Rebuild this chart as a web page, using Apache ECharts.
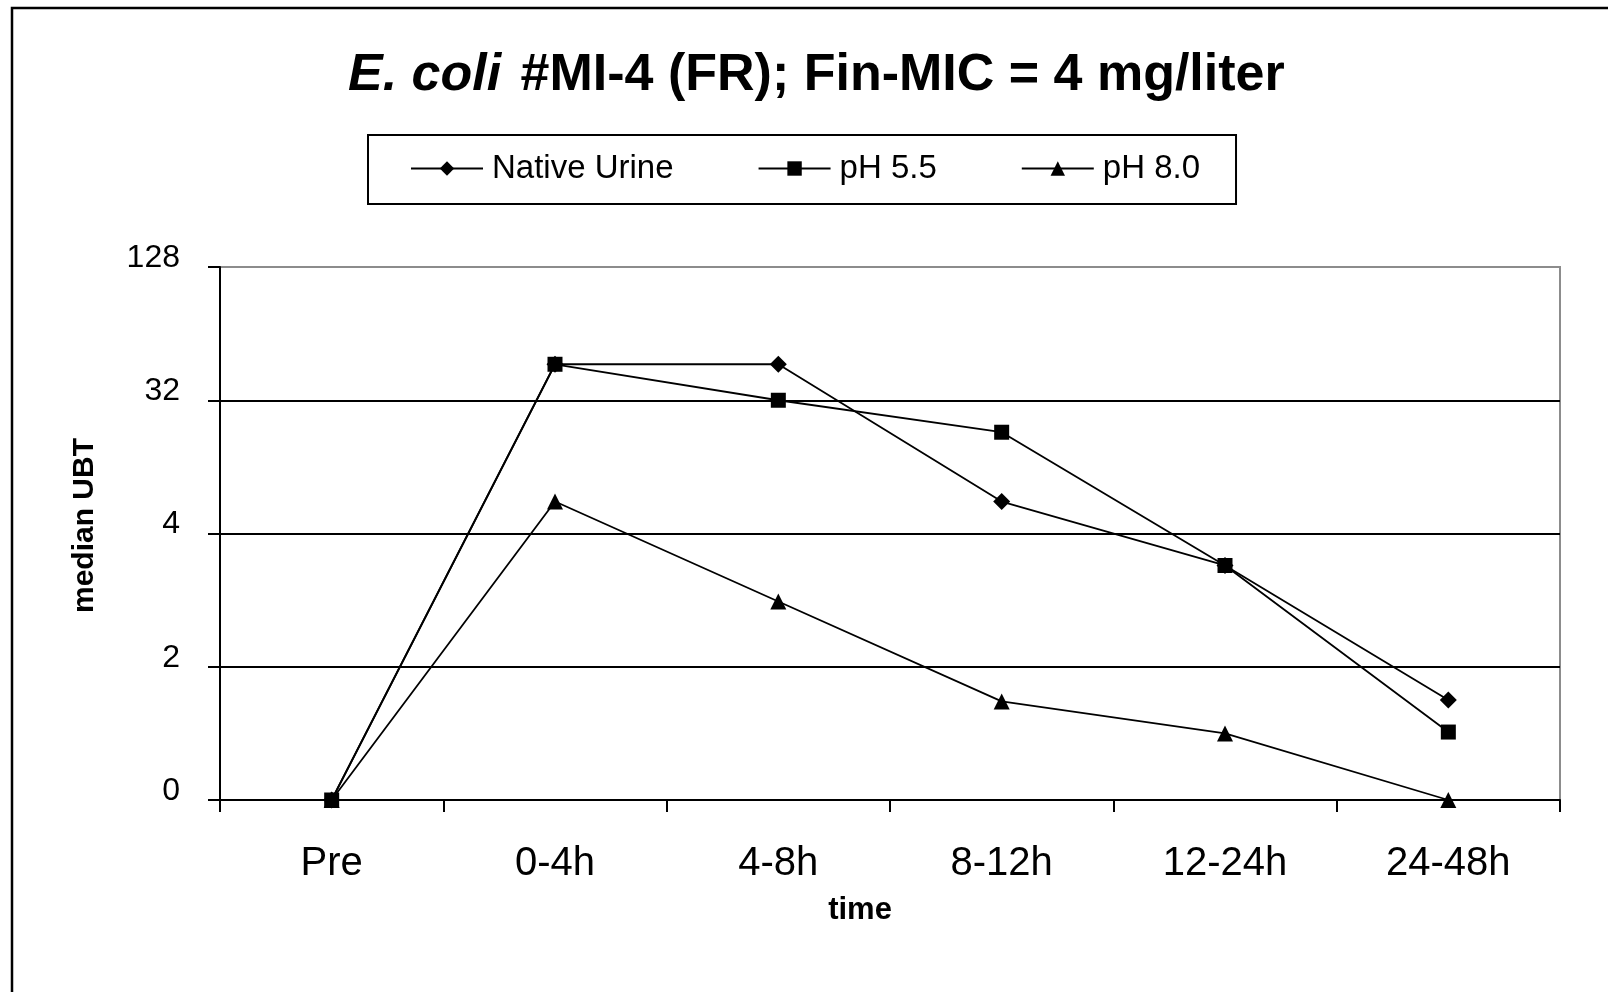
<!DOCTYPE html>
<html>
<head>
<meta charset="utf-8">
<script src="https://cdn.jsdelivr.net/npm/echarts@6/dist/echarts.min.js"></script>
<style>
  html, body { margin: 0; padding: 0; background: #fff; }
  #chart { width: 1608px; height: 992px; }
</style>
</head>
<body>
<div id="chart"></div>
<script>
  // categories on the x axis
  const timePoints = ['Pre', '0-4h', '4-8h', '8-12h', '12-24h', '24-48h'];
  // the y axis is drawn as evenly spaced steps, labelled with these titres
  const yTickLabels = ['0', '2', '4', '32', '128'];
  // values in axis steps (0 = "0", 1 = "2", 2 = "4", 3 = "32", 4 = "128")
  const nativeUrine = [0, 3.27, 3.27, 2.24, 1.76, 0.75];
  const ph55 = [0, 3.27, 3.0, 2.76, 1.76, 0.51];
  const ph80 = [0, 2.24, 1.49, 0.74, 0.5, 0];

  const FONT = 'Arial, "Liberation Sans", sans-serif';

  const chart = echarts.init(document.getElementById('chart'));

  function lineSeries(name, data, symbol, size) {
    return {
      name: name,
      type: 'line',
      data: data,
      symbol: symbol,
      symbolSize: size,
      showSymbol: true,
      animation: false,
      lineStyle: { color: '#000', width: 1.8 },
      itemStyle: { color: '#000', borderWidth: 0 },
      emphasis: { disabled: true }
    };
  }

  const option = {
    backgroundColor: '#fff',
    animation: false,
    title: {
      left: 348,
      top: 50,
      padding: 0,
      text: '{i|E. coli} {b| #MI-4 (FR); Fin-MIC = 4 mg/liter}',
      textStyle: {
        rich: {
          i: { fontFamily: FONT, fontSize: 52, fontWeight: 'bold', fontStyle: 'italic', color: '#000' },
          b: { fontFamily: FONT, fontSize: 52, fontWeight: 'bold', color: '#000' }
        }
      }
    },
    legend: {
      left: 368,
      top: 135,
      padding: [17, 36, 19, 42],
      borderColor: '#000',
      borderWidth: 2,
      itemWidth: 72,
      itemHeight: 18,
      itemGap: 84,
      textStyle: { fontFamily: FONT, fontSize: 33, color: '#000', padding: [0, 0, 0, 4] },
      data: ['Native Urine', 'pH 5.5', 'pH 8.0']
    },
    grid: {
      left: 220,
      right: 48,
      top: 267,
      bottom: 192,
      show: true,
      borderColor: '#8c8c8c',
      borderWidth: 2
    },
    xAxis: {
      type: 'category',
      data: timePoints,
      boundaryGap: true,
      axisLine: { lineStyle: { color: '#000', width: 2 } },
      axisTick: { show: true, interval: 0, length: 12, lineStyle: { color: '#000', width: 2 } },
      axisLabel: { fontFamily: FONT, fontSize: 40, color: '#000', margin: 44, interval: 0 },
      splitLine: { show: false },
      name: 'time',
      nameLocation: 'middle',
      nameGap: 95,
      nameTextStyle: { fontFamily: FONT, fontSize: 31, fontWeight: 'bold', color: '#000', padding: [0, 60, 0, 0] }
    },
    yAxis: {
      type: 'value',
      min: 0,
      max: 4,
      interval: 1,
      axisLine: { show: true, lineStyle: { color: '#000', width: 2 } },
      axisTick: { show: true, length: 12, lineStyle: { color: '#000', width: 2 } },
      axisLabel: {
        fontFamily: FONT, fontSize: 32, color: '#000', margin: 40,
        verticalAlign: 'bottom',
        lineHeight: 18,
        formatter: function (v) { return yTickLabels[Math.round(v)]; }
      },
      splitLine: { show: true, lineStyle: { color: ['#000', '#000', '#000', '#000', '#8c8c8c'], width: 2 } },
      name: 'median UBT',
      nameLocation: 'middle',
      nameGap: 120,
      nameTextStyle: { fontFamily: FONT, fontSize: 30, fontWeight: 'bold', color: '#000', padding: [0, 0, 0, 16] }
    },
    series: [
      lineSeries('Native Urine', nativeUrine, 'diamond', 17),
      lineSeries('pH 5.5', ph55, 'rect', 15),
      lineSeries('pH 8.0', ph80, 'triangle', 16)
    ],
    graphic: [{
      type: 'rect',
      shape: { x: 12, y: 8, width: 1640, height: 1040 },
      style: { fill: null, stroke: '#000', lineWidth: 2.5 },
      silent: true
    }]
  };

  chart.setOption(option);
</script>
</body>
</html>
